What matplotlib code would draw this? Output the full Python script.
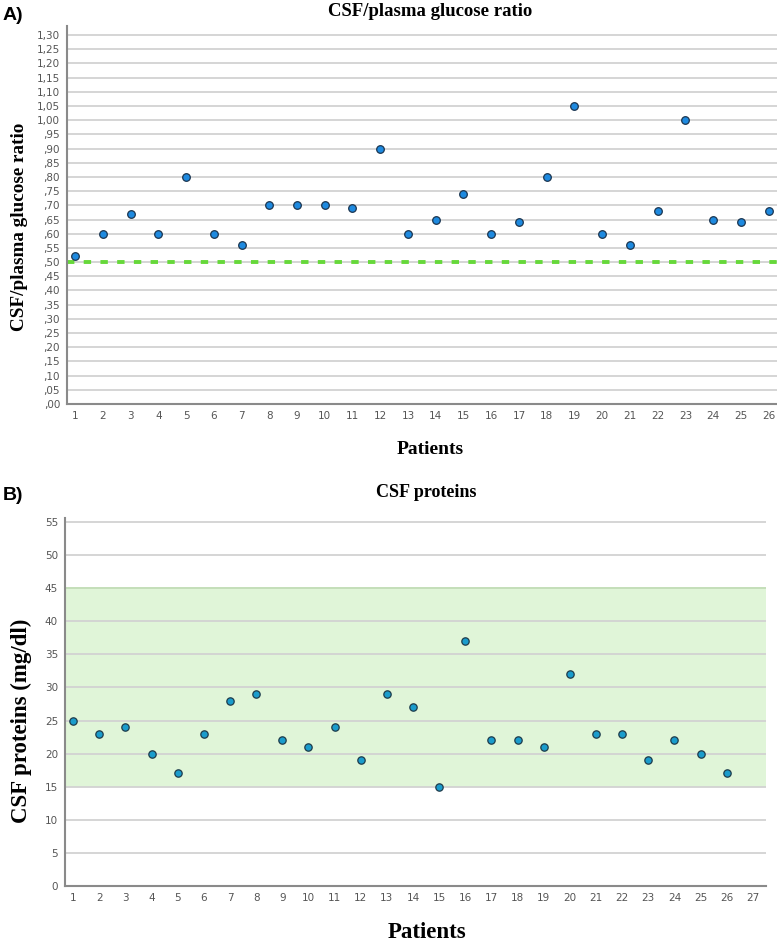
import matplotlib
matplotlib.use("Agg")
import matplotlib.pyplot as plt
from matplotlib.ticker import FixedLocator, FuncFormatter

patients_a = list(range(1, 27))
glucose_ratio = [0.52, 0.60, 0.67, 0.60, 0.80, 0.60, 0.56, 0.70, 0.70, 0.70,
                 0.69, 0.90, 0.60, 0.65, 0.74, 0.60, 0.64, 0.80, 1.05, 0.60,
                 0.56, 0.68, 1.00, 0.65, 0.64, 0.68]
ratio_threshold = 0.50

patients_b = list(range(1, 27))
csf_proteins = [25, 23, 24, 20, 17, 23, 28, 29, 22, 21, 24, 19, 29, 27, 15,
                37, 22, 22, 21, 32, 23, 23, 19, 22, 20, 17]
protein_normal_range = (15, 45)

ticks_a = [round(i * 0.05, 2) for i in range(27)]
ticks_b = list(range(0, 56, 5))
xticks_a = list(range(1, 27))
xticks_b = list(range(1, 28))

W, H = 777, 943
fig = plt.figure(figsize=(W / 100, H / 100), dpi=100)

serif = "Liberation Serif"
grid_c = "#d2d2d2"
spine_c = "#8a8a8a"
tick_c = "#555555"


def style(ax):
    for s in ("top", "right"):
        ax.spines[s].set_visible(False)
    for s in ("left", "bottom"):
        ax.spines[s].set_color(spine_c)
        ax.spines[s].set_linewidth(1.5)
    ax.tick_params(length=0, labelsize=7.5, colors=tick_c, pad=5)
    ax.yaxis.grid(True, color=grid_c, linewidth=1.3)
    ax.xaxis.grid(False)
    ax.set_axisbelow(True)


# ---- Panel A ----
axA = fig.add_axes([67 / W, 1 - 404 / H, (777 - 67) / W, (404 - 26) / H])
style(axA)
axA.set_xlim(0.71, 26.3)
axA.set_ylim(0, 1.332)
axA.yaxis.set_major_locator(FixedLocator(ticks_a))
axA.xaxis.set_major_locator(FixedLocator(xticks_a))


def fmt_a(v, pos):
    s = f"{v:.2f}".replace(".", ",")
    if s.startswith("0"):
        s = s[1:]
    return s


axA.yaxis.set_major_formatter(FuncFormatter(fmt_a))
axA.axhline(ratio_threshold, color="#66d83a", linewidth=2.8,
            dashes=(1.9, 2.4), zorder=2)
axA.scatter(patients_a, glucose_ratio, s=30, color="#1e8ae0",
            edgecolors="#1b3550", linewidths=0.9, zorder=3, clip_on=False)
axA.set_title("CSF/plasma glucose ratio", fontfamily=serif,
              fontweight="bold", fontsize=13.5, pad=7, x=0.511)
axA.set_ylabel("CSF/plasma glucose ratio", fontfamily=serif,
               fontweight="bold", fontsize=13.8)
axA.yaxis.set_label_coords(-39 / 710, 0.47)
axA.set_xlabel("Patients", fontfamily=serif, fontweight="bold",
               fontsize=14)
axA.xaxis.set_label_coords(0.511, -37 / 378)
fig.text(3 / W, 1 - 16 / H, "A)", fontfamily="Liberation Sans",
         fontweight="bold", fontsize=14, va="center", ha="left")

# ---- Panel B ----
axB = fig.add_axes([65 / W, 1 - 886 / H, (766 - 65) / W, (886 - 518) / H])
style(axB)
axB.set_xlim(0.69, 27.5)
axB.set_ylim(0, 55.6)
axB.yaxis.set_major_locator(FixedLocator(ticks_b))
axB.xaxis.set_major_locator(FixedLocator(xticks_b))
axB.axhspan(protein_normal_range[0], protein_normal_range[1],
            facecolor="#e0f5d8", edgecolor="none", zorder=0.4)
axB.axhline(protein_normal_range[1], color="#c4e0b8", linewidth=1.3,
            zorder=0.6)
axB.scatter(patients_b, csf_proteins, s=28, color="#1a9ccc",
            edgecolors="#1d3b4a", linewidths=0.9, zorder=3, clip_on=False)
axB.set_title("CSF proteins", fontfamily=serif, fontweight="bold",
              fontsize=13, pad=15, x=0.516)
axB.set_ylabel("CSF proteins (mg/dl)", fontfamily=serif, fontweight="bold",
               fontsize=16.5)
axB.yaxis.set_label_coords(-33 / 701, 0.45)
axB.set_xlabel("Patients", fontfamily=serif, fontweight="bold",
               fontsize=16.5)
axB.xaxis.set_label_coords(0.516, -36 / 368)
fig.text(3 / W, 1 - 495 / H, "B)", fontfamily="Liberation Sans",
         fontweight="bold", fontsize=14, va="center", ha="left")

fig.savefig("out.png", dpi=100)
